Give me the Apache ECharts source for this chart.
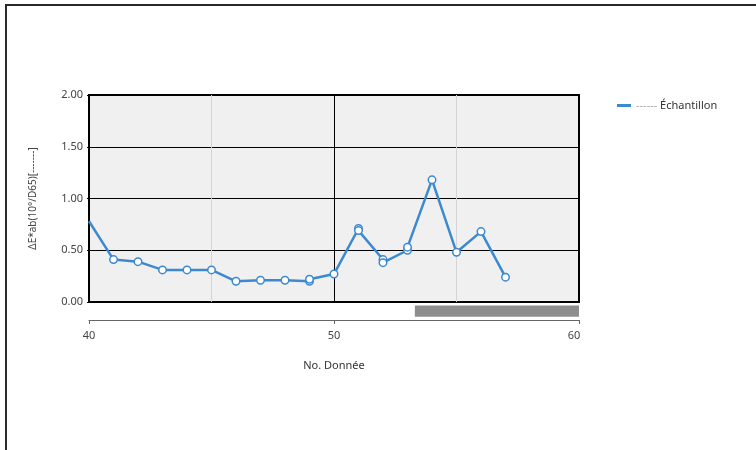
<!DOCTYPE html>
<html>
<head>
<meta charset="utf-8">
<script src="https://cdn.jsdelivr.net/npm/echarts@6/dist/echarts.min.js"></script>
<style>
  html, body { margin: 0; padding: 0; background: #fff; }
  #chart { width: 756px; height: 450px; }
</style>
</head>
<body>
<div id="chart"></div>
<script>
// data
var dataNo = [40, 41, 42, 43, 44, 45, 46, 47, 48, 49, 49, 50, 51, 51, 52, 52, 53, 53, 54, 55, 56, 57];
var deltaE = [0.78, 0.41, 0.39, 0.31, 0.31, 0.31, 0.20, 0.21, 0.21, 0.20, 0.22, 0.27, 0.71, 0.69, 0.41, 0.38, 0.50, 0.53, 1.18, 0.48, 0.68, 0.24];
var xTicks = [40, 50, 60];
var scrollRange = [53.3, 60]; // grey bar under the plot
var seriesName = 'Échantillon';

var blue = '#3c89cf';
var txt = '#444';
var font = 'Noto Sans';

var points = dataNo.map(function (x, i) {
  var p = { value: [x, deltaE[i]] };
  if (i === 0) p.symbol = 'none'; // first point sits on the border
  return p;
});

var chart = echarts.init(document.getElementById('chart'));
chart.setOption({
  animation: false,
  textStyle: { fontFamily: font },
  graphic: [{
    type: 'polyline',
    shape: { points: [[6, 452], [6, 5], [760, 5]] },
    style: { stroke: '#2a2a2a', lineWidth: 2, fill: null }
  }],
  legend: {
    left: 612, top: 95,
    icon: 'rect', itemWidth: 14, itemHeight: 3, itemGap: 4,
    data: [seriesName],
    itemStyle: { color: blue, borderWidth: 0 },
    formatter: function (n) { return '{d|------ }{n|' + n + '}'; },
    textStyle: {
      rich: {
        d: { color: '#aaa', fontSize: 11, fontFamily: font },
        n: { color: '#333', fontSize: 11, fontFamily: font }
      }
    }
  },
  grid: [{
    left: 89, top: 95, width: 490, height: 207,
    show: true, backgroundColor: '#f0f0f0', borderColor: '#000', borderWidth: 2
  }, {
    left: 89, top: 304, width: 490, height: 16
  }],
  xAxis: [{
    gridIndex: 0, type: 'value', min: 40, max: 60, interval: 5,
    axisLine: { show: false }, axisTick: { show: false }, axisLabel: { show: false },
    splitLine: { show: true, lineStyle: { color: ['#000', '#d4d4d4'], width: 1 } }
  }, {
    gridIndex: 1, type: 'value', min: 40, max: 60, interval: 10,
    name: 'No. Donnée', nameLocation: 'middle', nameGap: 40,
    nameTextStyle: { color: '#333', fontSize: 11, fontFamily: font },
    axisLine: { show: true, lineStyle: { color: '#666', width: 1 } },
    axisTick: { show: true, inside: false, length: 4, lineStyle: { color: '#666' } },
    axisLabel: {
      color: txt, fontSize: 11, margin: 10,
      formatter: function (v) { return v === 60 ? '{r|60}' : String(v); },
      rich: { r: { padding: [0, 10, 0, 0], color: txt, fontSize: 11, fontFamily: font } }
    },
    splitLine: { show: false }
  }],
  yAxis: [{
    gridIndex: 0, type: 'value', min: 0, max: 2, interval: 0.5,
    name: 'ΔE*ab(10°/D65)[-------]', nameLocation: 'middle', nameGap: 51,
    nameTextStyle: { color: '#444', fontSize: 10, fontFamily: font },
    axisLine: { show: false },
    axisTick: { show: true, length: 2, lineStyle: { color: '#000' } },
    axisLabel: { color: txt, fontSize: 11, margin: 6, formatter: function (v) { return v.toFixed(2); } },
    splitLine: { show: true, lineStyle: { color: '#000', width: 1 } }
  }, {
    gridIndex: 1, type: 'value', min: 0, max: 1, show: false
  }],
  series: [{
    name: seriesName,
    type: 'line',
    xAxisIndex: 0, yAxisIndex: 0,
    data: points,
    symbol: 'circle', symbolSize: 7.5,
    itemStyle: { color: '#fff', borderColor: blue, borderWidth: 1.5 },
    lineStyle: { color: blue, width: 2.5 },
    clip: true,
    z: 3
  }, {
    type: 'line',
    xAxisIndex: 1, yAxisIndex: 1,
    data: [],
    markArea: {
      silent: true,
      itemStyle: { color: '#8e8e8e' },
      data: [[{ xAxis: scrollRange[0], yAxis: 0.2 }, { xAxis: scrollRange[1], yAxis: 0.9 }]]
    }
  }]
});
</script>
</body>
</html>
